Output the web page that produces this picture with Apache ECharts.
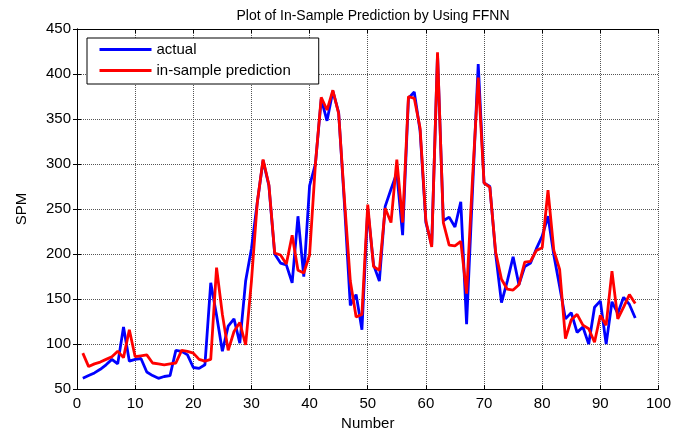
<!DOCTYPE html>
<html>
<head>
<meta charset="utf-8">
<script src="https://cdn.jsdelivr.net/npm/echarts@6/dist/echarts.min.js"></script>
<style>
  html, body { margin: 0; padding: 0; background: #fff; }
  #chart { width: 674px; height: 436px; }
</style>
</head>
<body>
<div id="chart"></div>
<script>
  // sample number (x axis)
  const number = [
    1, 2, 3, 4, 5, 6, 7, 8, 9, 10, 11, 12, 13, 14, 15, 16, 17, 18, 19, 20,
    21, 22, 23, 24, 25, 26, 27, 28, 29, 30, 31, 32, 33, 34, 35, 36, 37, 38, 39, 40,
    41, 42, 43, 44, 45, 46, 47, 48, 49, 50, 51, 52, 53, 54, 55, 56, 57, 58, 59, 60,
    61, 62, 63, 64, 65, 66, 67, 68, 69, 70, 71, 72, 73, 74, 75, 76, 77, 78, 79, 80,
    81, 82, 83, 84, 85, 86, 87, 88, 89, 90, 91, 92, 93, 94, 95, 96
  ];

  // SPM actual
  const actual = [
    62, 65, 68, 72, 77, 83, 78, 119, 81, 83, 84, 69, 65, 62, 64, 65, 93, 92, 88, 74,
    73, 77, 168, 132, 92, 120, 128, 101, 170, 206, 257, 304, 276, 200, 190, 188, 168, 242, 175, 276,
    300, 372, 348, 381, 357, 255, 143, 155, 116, 250, 188, 170, 253, 272, 290, 221, 373, 380, 337, 235,
    210, 422, 237, 241, 230, 258, 122, 268, 411, 279, 275, 200, 146, 170, 197, 166, 186, 190, 206, 220,
    242, 199, 164, 128, 135, 113, 119, 100, 141, 148, 100, 147, 134, 152, 144, 129
  ];

  // in-sample prediction (FFNN)
  const prediction = [
    90, 75, 78, 80, 83, 86, 92, 85, 116, 86, 87, 88, 79, 78, 77, 78, 79, 93, 92, 90,
    83, 81, 83, 185, 133, 93, 114, 124, 99, 170, 257, 305, 277, 201, 199, 189, 221, 182, 179, 199,
    300, 374, 360, 382, 356, 260, 170, 130, 133, 255, 186, 182, 251, 235, 305, 235, 375, 373, 340, 237,
    208, 424, 235, 210, 209, 214, 156, 282, 396, 279, 274, 202, 172, 161, 160, 166, 191, 192, 204, 207,
    271, 204, 183, 106, 127, 133, 121, 117, 102, 132, 121, 181, 128, 141, 155, 145
  ];

  const FONT = '"Liberation Sans", Arial, Helvetica, sans-serif';

  let pairs = (ys) => ys.map((v, i) => [number[i], v]);

  let axisCommon = {
    axisLine: { show: true, lineStyle: { color: '#000', width: 1 } },
    axisTick: { show: true, inside: true, length: 4, lineStyle: { color: '#000' } }
  };

  let option = {
    animation: false,
    backgroundColor: '#fff',
    title: {
      text: 'Plot of In-Sample Prediction by Using FFNN',
      left: 368,
      top: 4,
      textAlign: 'center',
      textStyle: { fontFamily: FONT, fontSize: 14, fontWeight: 'normal', color: '#000' }
    },
    legend: {
      orient: 'vertical',
      left: 87,
      top: 38,
      padding: [4, 28, 6, 11],
      itemGap: 6,
      itemWidth: 52,
      itemHeight: 14,
      backgroundColor: '#fff',
      borderColor: '#000',
      borderWidth: 1,
      borderRadius: 0,
      // hide the marker, keep only the line sample
      itemStyle: { color: 'transparent', borderColor: 'transparent', borderWidth: 0 },
      lineStyle: { width: 3 },
      textStyle: { fontFamily: FONT, fontSize: 15, color: '#000' },
      data: ['actual', 'in-sample prediction']
    },
    grid: { left: 77, right: 14, top: 29, bottom: 39 },
    xAxis: [{
      type: 'value',
      min: 0,
      max: 100,
      interval: 10,
      name: 'Number',
      nameLocation: 'middle',
      nameGap: 24,
      nameTextStyle: { fontFamily: FONT, fontSize: 15, color: '#000' },
      axisLabel: { margin: 7, fontFamily: FONT, fontSize: 15, color: '#000' },
      splitLine: { show: true, lineStyle: { color: '#555', type: 'dotted', width: 1 } },
      ...axisCommon
    }, {
      type: 'value',
      position: 'top',
      min: 0,
      max: 100,
      interval: 10,
      axisLabel: { show: false },
      splitLine: { show: false },
      ...axisCommon
    }],
    yAxis: [{
      type: 'value',
      min: 50,
      max: 450,
      interval: 50,
      name: 'SPM',
      nameLocation: 'middle',
      nameGap: 48,
      nameTextStyle: { fontFamily: FONT, fontSize: 15, color: '#000' },
      axisLabel: { margin: 6, fontFamily: FONT, fontSize: 15, color: '#000' },
      splitLine: { show: true, lineStyle: { color: '#555', type: 'dotted', width: 1 } },
      ...axisCommon
    }, {
      type: 'value',
      position: 'right',
      min: 50,
      max: 450,
      interval: 50,
      axisLabel: { show: false },
      splitLine: { show: false },
      ...axisCommon
    }],
    series: [{
      name: 'actual',
      type: 'line',
      symbol: 'none',
      color: '#0000ff',
      lineStyle: { color: '#0000ff', width: 2.8 },
      data: pairs(actual)
    }, {
      name: 'in-sample prediction',
      type: 'line',
      symbol: 'none',
      color: '#ff0000',
      lineStyle: { color: '#ff0000', width: 2.8 },
      data: pairs(prediction)
    }]
  };

  echarts.init(document.getElementById('chart')).setOption(option);
</script>
</body>
</html>
